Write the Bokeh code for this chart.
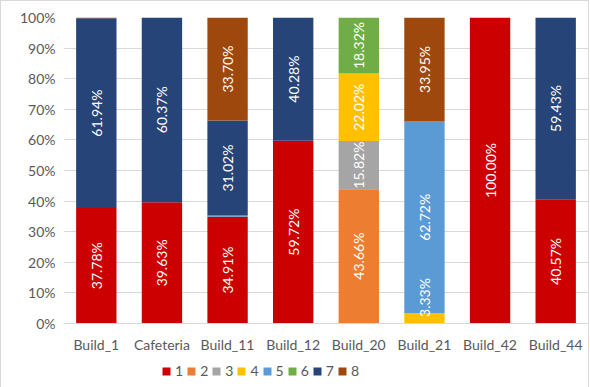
from bokeh.plotting import figure
from bokeh.layouts import column
from bokeh.models import ColumnDataSource, Legend, LegendItem, NumeralTickFormatter, FixedTicker
from bokeh.core.properties import value
from bokeh.embed import file_html
from bokeh.resources import INLINE
import math

categories = ["Build_1", "Cafeteria", "Build_11", "Build_12", "Build_20", "Build_21", "Build_42", "Build_44"]
series_names = ["1", "2", "3", "4", "5", "6", "7", "8"]
s1 = [37.78, 39.63, 34.91, 59.72, 0.18, 0.00, 100.00, 40.57]
s2 = [0.00, 0.00, 0.00, 0.00, 43.66, 0.00, 0.00, 0.00]
s3 = [0.00, 0.00, 0.00, 0.00, 15.82, 0.00, 0.00, 0.00]
s4 = [0.00, 0.00, 0.00, 0.00, 22.02, 3.33, 0.00, 0.00]
s5 = [0.00, 0.00, 0.37, 0.00, 0.00, 62.72, 0.00, 0.00]
s6 = [0.00, 0.00, 0.00, 0.00, 18.32, 0.00, 0.00, 0.00]
s7 = [61.94, 60.37, 31.02, 40.28, 0.00, 0.00, 0.00, 59.43]
s8 = [0.28, 0.00, 33.70, 0.00, 0.00, 33.95, 0.00, 0.00]
colors = ["#CC0000", "#ED7D31", "#A5A5A5", "#FFC000", "#5B9BD5", "#70AD47", "#264478", "#9E480E"]

series = [s1, s2, s3, s4, s5, s6, s7, s8]
FONT = "Lato"
FRAME_H = 306

data = {"cat": categories}
for name, vals in zip(series_names, series):
    data["s" + name] = [v / 100.0 for v in vals]
source = ColumnDataSource(data)
keys = ["s" + n for n in series_names]

p = figure(x_range=categories, y_range=(0, 1), frame_width=525, frame_height=FRAME_H,
           output_backend="svg", toolbar_location=None,
           min_border_left=62, min_border_right=0, min_border_top=16, min_border_bottom=29)

p.vbar_stack(keys, x="cat", width=0.615, color=colors, source=source, line_color=None)

# labels (kept inside the plot area, as the spreadsheet does)
half_text = 26.0 / FRAME_H
lx, ly, lt = [], [], []
for i, c in enumerate(categories):
    base = 0.0
    for vals in series:
        v = vals[i]
        if v >= 1.0:
            mid = (base + v / 2.0) / 100.0
            mid = min(max(mid, half_text), 1 - half_text)
            lx.append(c)
            ly.append(mid)
            lt.append(f"{v:.2f}%")
        base += v
p.text(x=lx, y=ly, text=lt, angle=math.pi / 2, text_align="center", text_baseline="middle",
       text_color="white", text_font=value(FONT), text_font_size="14px")

p.yaxis.ticker = FixedTicker(ticks=[i / 10 for i in range(11)])
p.yaxis.formatter = NumeralTickFormatter(format="0%")
p.yaxis.axis_line_color = None
p.yaxis.major_tick_line_color = None
p.yaxis.minor_tick_line_color = None
p.yaxis.major_tick_out = 0
p.yaxis.major_label_text_font = FONT
p.yaxis.major_label_text_font_size = "14px"
p.yaxis.major_label_text_color = "#595959"
p.yaxis.major_label_standoff = 8

p.xaxis.axis_line_color = "#D9D9D9"
p.xaxis.major_tick_line_color = None
p.xaxis.minor_tick_line_color = None
p.xaxis.major_tick_out = 0
p.xaxis.minor_tick_out = 0
p.xaxis.major_label_text_font = FONT
p.xaxis.major_label_text_font_size = "14px"
p.xaxis.major_label_text_color = "#595959"
p.xaxis.major_label_standoff = 12

p.xgrid.grid_line_color = None
p.ygrid.grid_line_color = "#D9D9D9"
p.outline_line_color = None
p.x_range.range_padding = 0.0

# legend strip below the chart (same stacked series, kept out of view, only used for swatches)
leg = figure(width=587, height=34, x_range=categories, y_range=(5, 6),
             output_backend="svg", toolbar_location=None, min_border=0,
             x_axis_location=None, y_axis_location=None)
leg.grid.visible = False
leg.outline_line_color = None
leg_renderers = leg.vbar_stack(keys, x="cat", width=0.615, color=colors, source=source, line_color=None)
items = [LegendItem(label=n, renderers=[r]) for n, r in zip(series_names, leg_renderers)]
legend = Legend(items=items, orientation="horizontal", location=(98, 10),
                label_text_font=FONT, label_text_font_size="14px", label_text_color="#595959",
                glyph_width=10, glyph_height=10, spacing=3, label_standoff=4,
                label_height=14, label_width=8,
                border_line_color=None, background_fill_alpha=0, padding=0, margin=0)
leg.add_layout(legend)

layout = column(p, leg, spacing=0)
layout.styles = {"border": "1px solid #D9D9D9"}

open("out.html", "w").write(file_html(layout, INLINE))
